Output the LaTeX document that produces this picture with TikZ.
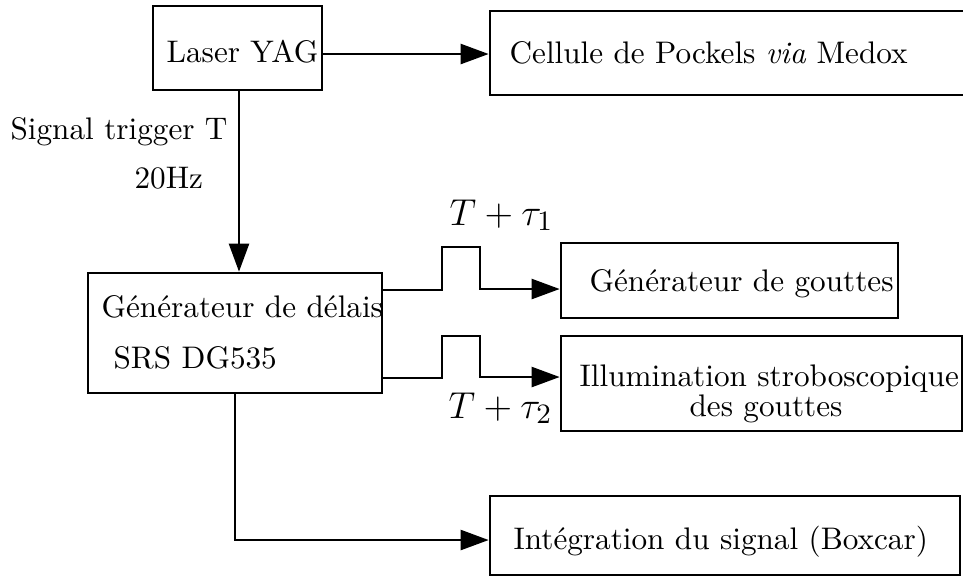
\documentclass[tikz,border=0pt]{standalone}
\usepackage{fontspec}
\usetikzlibrary{arrows.meta,fit}
\begin{document}
\begin{tikzpicture}[x=0.3205pt,y=-0.3205pt,
  box/.style={draw,line width=0.85pt,inner sep=0pt,rectangle},
  lbl/.style={inner sep=0pt,anchor=base west,font=\fontsize{10}{12}\selectfont},
  mlbl/.style={inner sep=0pt,anchor=base west,font=\fontsize{12.4}{14}\selectfont},
  arr/.style={line width=0.85pt,-{Triangle[length=9pt,width=6.4pt]}},
  wire/.style={line width=0.85pt}]
\clip (0,0) rectangle (963,577);
% boxes
\node[box,fit={(153,6) (322,90)}] (laser) {};
\node[box,fit={(490,11) (967,95)}] (cell) {};
\node[box,fit={(88,273) (382,393)}] (gen) {};
\node[box,fit={(561,243) (898,318)}] (gg) {};
\node[box,fit={(561,336) (962,431)}] (illu) {};
\node[box,fit={(490,496) (960,575)}] (integ) {};
% texts
\node[lbl] (tlaser) at (166,62) {Laser YAG};
\node[lbl] (tcell) at (509,63) {Cellule de Pockels \textit{via} Medox};
\node[lbl] (tsig) at (10,139) {Signal trigger T};
\node[lbl] (thz) at (134,188) {20Hz};
\node[lbl] (tgen1) at (101,317) {Générateur de délais};
\node[lbl] (tgen2) at (113,368) {SRS DG535};
\node[lbl] (tgg) at (589,291) {Générateur de gouttes};
\node[lbl] (till1) at (579,386) {Illumination stroboscopique};
\node[lbl,anchor=base] (till2) at (766,416) {des gouttes};
\node[lbl] (tint) at (513,549) {Intégration du signal (Boxcar)};
\node[mlbl] (tau1) at (449,225) {$T+\tau_1$};
\node[mlbl] (tau2) at (448,418) {$T+\tau_2$};
% connectors
\draw[arr] (laser.east |- 0,54) -- (cell.west |- 0,54);
\draw[arr] (laser.south -| 239,0) -- (gen.north -| 239,0);
\draw[arr] (gen.east |- 0,290) -- (442,290) -- (442,247) -- (480,247) -- (480,289) -- (gg.west |- 0,289);
\draw[arr] (gen.east |- 0,378) -- (442,378) -- (442,336) -- (480,336) -- (480,377) -- (illu.west |- 0,377);
\draw[arr] (gen.south -| 235,0) -- (235,540) -- (integ.west |- 0,540);
\end{tikzpicture}
\end{document}
